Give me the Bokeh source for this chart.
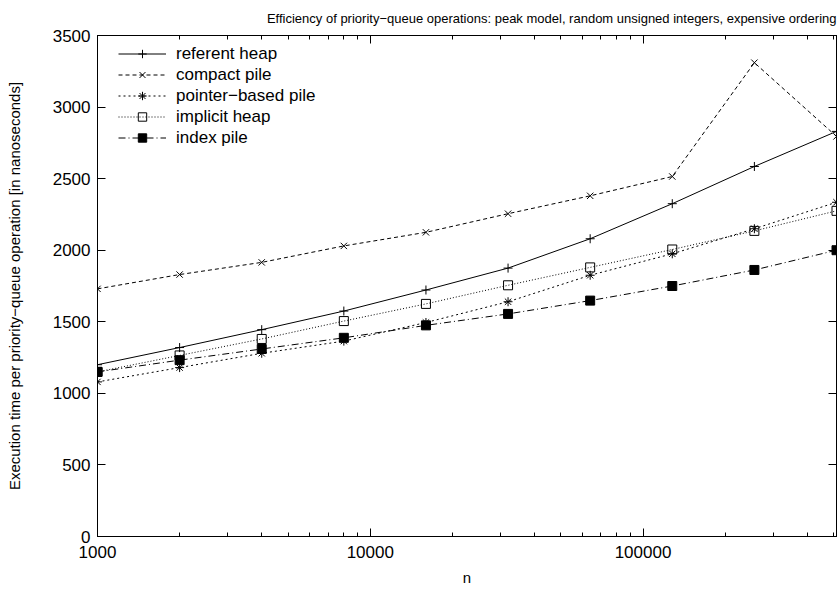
from bokeh.plotting import figure
from bokeh.models import Range1d, LinearAxis, LogAxis, FixedTicker, LogTicker, NumeralTickFormatter, CustomJSTickFormatter, Legend, LegendItem
from bokeh.embed import file_html
from bokeh.resources import INLINE

n = [1000, 2000, 4000, 8000, 16000, 32000, 64000, 128000, 256000, 512000]
referent_heap = [1200, 1320, 1445, 1575, 1722, 1875, 2080, 2325, 2585, 2830]
compact_pile = [1730, 1830, 1915, 2030, 2125, 2255, 2380, 2515, 3310, 2795]
pointer_pile = [1080, 1180, 1280, 1365, 1495, 1640, 1825, 1975, 2150, 2335]
implicit_heap = [1150, 1265, 1380, 1505, 1625, 1755, 1880, 2005, 2135, 2275]
index_pile = [1150, 1232, 1310, 1388, 1475, 1555, 1648, 1750, 1862, 2000]

labels = ["referent heap", "compact pile", "pointer\u2212based pile", "implicit heap", "index pile"]
y_ticks = [0, 500, 1000, 1500, 2000, 2500, 3000, 3500]
title_text = "Efficiency of priority\u2212queue operations: peak model, random unsigned integers, expensive ordering"

FONT = "Liberation Sans"

p = figure(width=838, height=593, output_backend="svg", toolbar_location=None,
           x_axis_type="log", x_range=Range1d(1000, 512000), y_range=Range1d(0, 3500),
           min_border_left=97, min_border_right=2, min_border_top=35, min_border_bottom=57,
           title=title_text)
p.title.text_font = FONT
p.title.text_font_size = "13px"
p.title.text_font_style = "normal"
p.title.align = "right"
p.title.text_color = "black"
p.title.standoff = 16
p.title.vertical_align = "top"

p.xgrid.visible = False
p.ygrid.visible = False
p.outline_line_color = "black"
p.outline_line_width = 1
p.outline_line_alpha = 1

blank = CustomJSTickFormatter(code="return '';")

def style_axis(ax):
    ax.axis_line_color = "black"
    ax.major_tick_in = 8
    ax.major_tick_out = 0
    ax.minor_tick_in = 4
    ax.minor_tick_out = 0
    ax.major_tick_line_color = "black"
    ax.minor_tick_line_color = "black"
    ax.major_label_text_font = FONT
    ax.major_label_text_font_size = "17px"
    ax.major_label_text_color = "black"
    ax.axis_label_text_font = FONT
    ax.axis_label_text_font_size = "15px"
    ax.axis_label_text_font_style = "normal"
    ax.axis_label_text_color = "black"

xt = LogTicker(num_minor_ticks=10)
yt = FixedTicker(ticks=y_ticks, minor_ticks=[])

xa = p.xaxis[0]
xa.ticker = xt
xa.formatter = NumeralTickFormatter(format="0")
xa.axis_label = "n"
style_axis(xa)
xa.axis_label_standoff = 8
xa.major_label_standoff = 9

ya = p.yaxis[0]
ya.ticker = yt
ya.axis_label = "Execution time per priority\u2212queue operation [in nanoseconds]"
style_axis(ya)
ya.axis_label_standoff = 27
ya.major_label_standoff = 7

top = LogAxis(ticker=xt, formatter=blank)
style_axis(top)
top.major_label_standoff = 0
p.add_layout(top, "above")
right = LinearAxis(ticker=yt, formatter=blank)
style_axis(right)
right.major_label_standoff = 0
p.add_layout(right, "right")

series = [referent_heap, compact_pile, pointer_pile, implicit_heap, index_pile]
dashes = ["solid", "4 3", "2 3", "1 2", "7 3 1 3"]
markers = ["cross", "x", "asterisk", "square", "square"]
fills = [None, None, None, None, "black"]

items = []
for lab, ys, d, m, f in zip(labels, series, dashes, markers, fills):
    r1 = p.line(n, ys, line_color="black", line_width=1, line_dash=d)
    r2 = p.scatter(n, ys, marker=m, size=9, line_color="black", line_width=1,
                   fill_color=f if f else None, fill_alpha=1 if f else 0)
    items.append(LegendItem(label=lab, renderers=[r1, r2]))

leg = Legend(items=items, location=(16, 383))
leg.border_line_alpha = 0
leg.background_fill_alpha = 0
leg.padding = 5
leg.margin = 0
leg.spacing = 0
leg.label_height = 21
leg.glyph_height = 21
leg.glyph_width = 48
leg.label_standoff = 10
leg.label_text_font = FONT
leg.label_text_font_size = "17px"
leg.label_text_color = "black"
p.add_layout(leg, "center")

open("out.html", "w").write(file_html(p, INLINE))
